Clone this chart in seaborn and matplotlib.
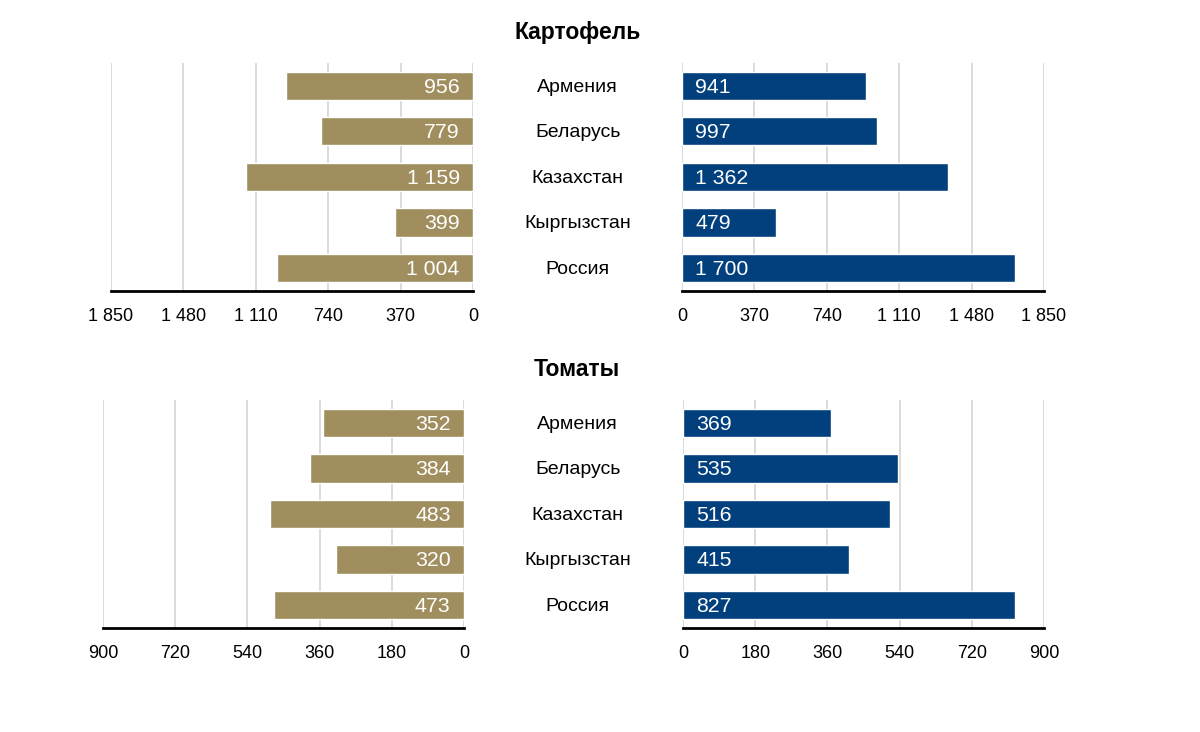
import matplotlib
matplotlib.use('Agg')
import matplotlib.pyplot as plt
import matplotlib.transforms as mtransforms
import seaborn as sns
import pandas as pd

"""
Data
"""
countries = ['Армения', 'Беларусь', 'Казахстан', 'Кыргызстан', 'Россия']
potato_left = [956, 779, 1159, 399, 1004]
potato_right = [941, 997, 1362, 479, 1700]
tomato_left = [352, 384, 483, 320, 473]
tomato_right = [369, 535, 516, 415, 827]
potato_ticks = [0, 370, 740, 1110, 1480, 1850]
tomato_ticks = [0, 180, 360, 540, 720, 900]

gold = '#A08E5E'
navy = '#01407C'

sns.set_style('white')
plt.rcParams['font.family'] = ['Liberation Sans', 'DejaVu Sans']
plt.rcParams['text.color'] = 'black'
plt.rcParams['xtick.color'] = 'black'

fig = plt.figure(figsize=(12, 7.32), dpi=100)


def fmt(v):
    return '{:,}'.format(v).replace(',', ' ')


def draw(ax, values, ticks, color, left):
    df = pd.DataFrame({'country': countries, 'value': values})
    sns.barplot(data=df, x='value', y='country', color=color, width=0.62,
                saturation=1, ax=ax, zorder=3)
    ax.set_xlim(ticks[-1], 0) if left else ax.set_xlim(0, ticks[-1])
    ax.set_ylim(4.5, -0.5)
    ax.set_xticks(ticks)
    ax.set_xticklabels([fmt(t) for t in ticks], fontsize=13)
    ax.set_yticks([])
    ax.set_xlabel('')
    ax.set_ylabel('')
    ax.tick_params(axis='x', length=0, pad=12)
    for t in ticks:
        ax.axvline(t, color='#d4d4d4', lw=1.2, zorder=1)
    for s in ['top', 'left', 'right']:
        ax.spines[s].set_visible(False)
    ax.spines['bottom'].set_color('black')
    ax.spines['bottom'].set_linewidth(2)
    ax.spines['bottom'].set_zorder(4)
    off = ticks[-1] * 0.037
    for i, v in enumerate(values):
        ax.text(off, i + 0.03, fmt(v), color='white', fontsize=15.3,
                ha='right' if left else 'left', va='center', zorder=5)


panels = [
    ('Картофель', potato_left, potato_right, potato_ticks,
     [0.0925, 0.6025, 0.3017, 0.3115], [0.5683, 0.6025, 0.3017, 0.3115], 0.955),
    ('Томаты', tomato_left, tomato_right, tomato_ticks,
     [0.0858, 0.1421, 0.3008, 0.3115], [0.5692, 0.1421, 0.3008, 0.3115], 0.495),
]

for title, lv, rv, ticks, lpos, rpos, ty in panels:
    axl = fig.add_axes(lpos)
    axr = fig.add_axes(rpos)
    draw(axl, lv, ticks, gold, True)
    draw(axr, rv, ticks, navy, False)
    fig.text(0.481, ty, title, ha='center', va='center', fontsize=16.5,
             fontweight='bold')
    trans = mtransforms.blended_transform_factory(fig.transFigure, axr.transData)
    for i, c in enumerate(countries):
        axr.text(0.4815, i + 0.03, c, transform=trans, ha='center', va='center',
                 fontsize=14, clip_on=False)

plt.savefig('out.png', dpi=100)
